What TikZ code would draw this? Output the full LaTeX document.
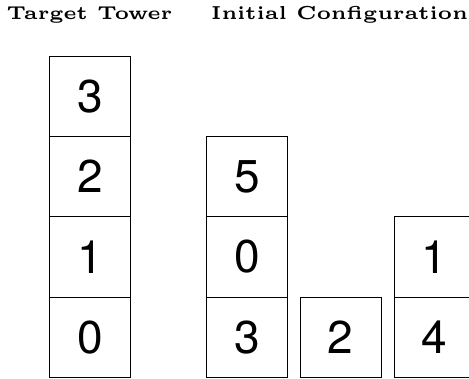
\documentclass[tikz,border=0pt]{standalone}
\usepackage{fontspec}
\usepackage{graphicx}
\newfontfamily\digitfont{TeX Gyre Heros}
\newcommand{\hdrtext}[1]{\scalebox{3.75}{\fontsize{5}{6}\selectfont\bfseries #1}}
\begin{document}
\begin{tikzpicture}[x=1pt,y=-1pt,
  blk/.style={draw=black, line width=0.8pt, minimum width=80.6pt, minimum height=80.4pt,
    inner sep=0pt, outer sep=0pt, font=\digitfont\fontsize{46}{50}\selectfont},
  hdr/.style={anchor=base, inner sep=0pt}]
\useasboundingbox (0,0) rectangle (469,378);
% headers
\node[hdr] (h1) at (89.5,19.2) {\hdrtext{Target Tower}};
\node[hdr] (h2) at (339.5,19.2) {\hdrtext{Initial Configuration}};
% target tower
\node[blk] (t3) at (89.8,96.1) {3};
\node[blk] (t2) at (89.8,176.5) {2};
\node[blk] (t1) at (89.8,256.9) {1};
\node[blk] (t0) at (89.8,337.3) {0};
% initial configuration
\node[blk] (a5) at (247,176.5) {5};
\node[blk] (a0) at (247,256.9) {0};
\node[blk] (a3) at (247,337.3) {3};
\node[blk] (b2) at (340.6,337.3) {2};
\node[blk] (c1) at (434.3,256.9) {1};
\node[blk] (c4) at (434.3,337.3) {4};
\end{tikzpicture}
\end{document}
